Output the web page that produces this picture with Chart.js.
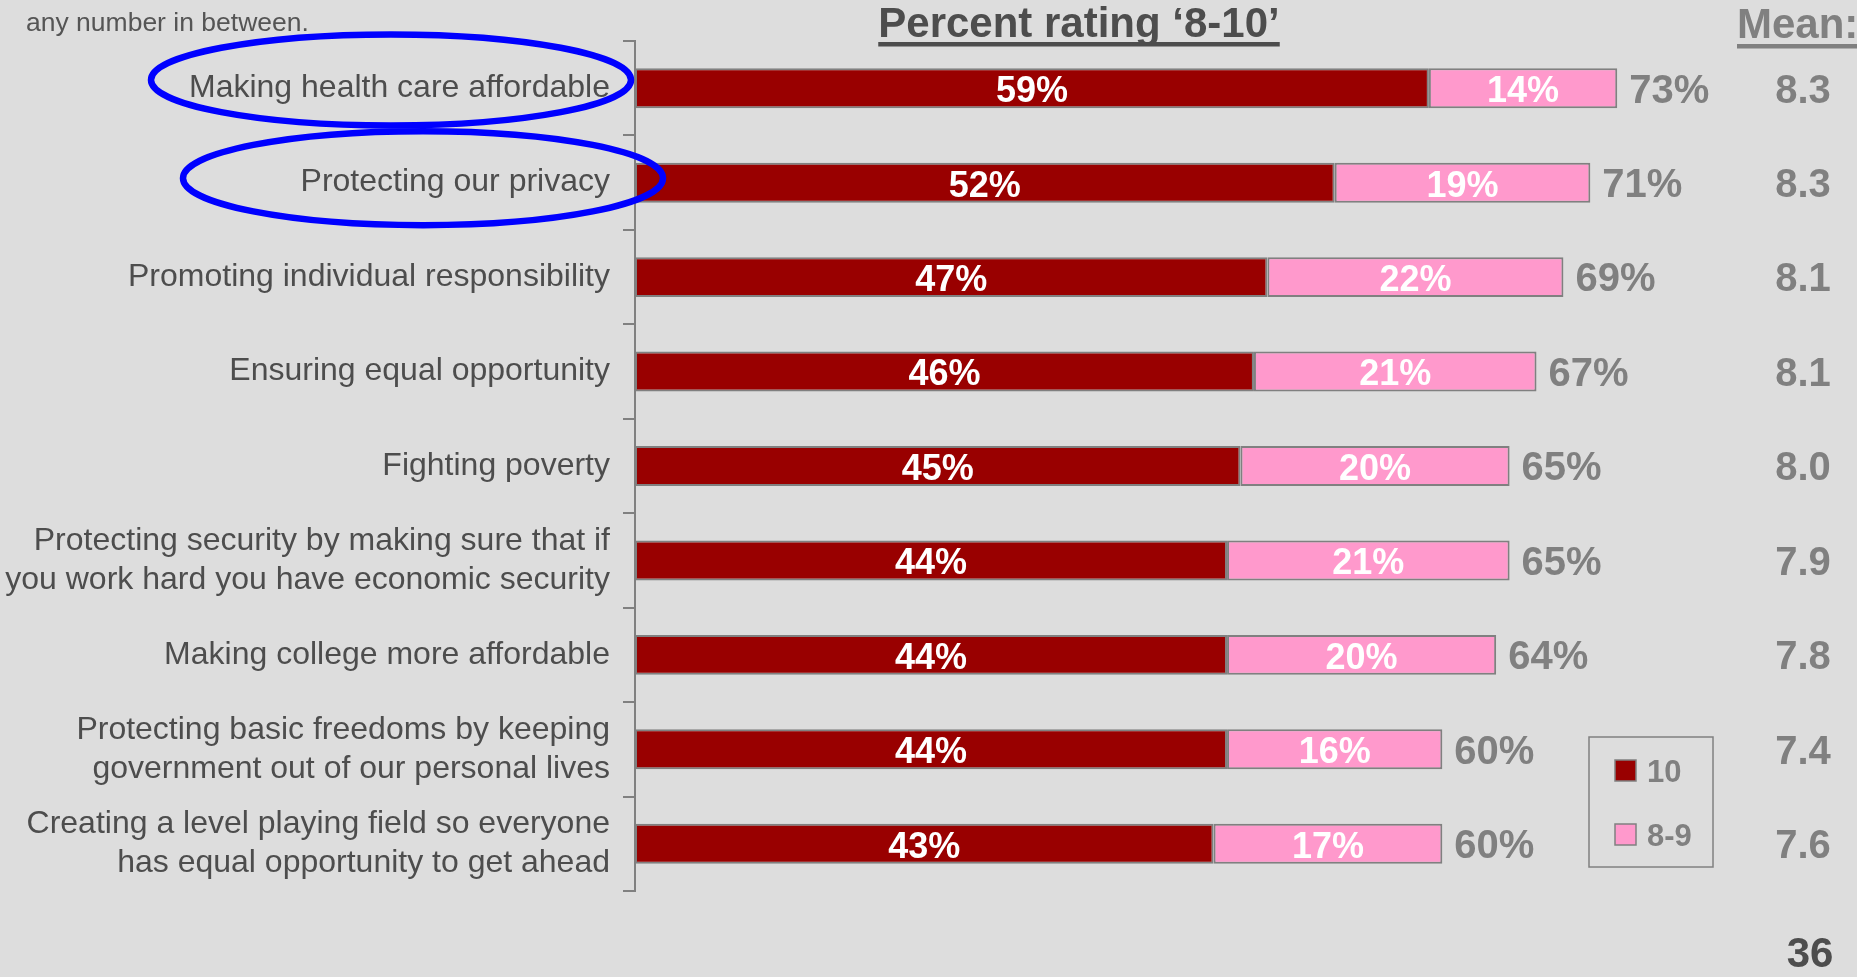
<!DOCTYPE html>
<html>
<head>
<meta charset="utf-8">
<script src="https://cdn.jsdelivr.net/npm/chart.js@4/dist/chart.umd.min.js"></script>
<style>
html,body{margin:0;padding:0;background:#dddddd;overflow:hidden}
#wrap{width:1857px;height:977px;position:relative}
canvas{display:block}
</style>
</head>
<body>
<div id="wrap"><canvas id="c" width="1857" height="977"></canvas></div>
<script>
// ---- data ----
const categories = [
  "Making health care affordable",
  "Protecting our privacy",
  "Promoting individual responsibility",
  "Ensuring equal opportunity",
  "Fighting poverty",
  ["Protecting security by making sure that if", "you work hard you have economic security"],
  "Making college more affordable",
  ["Protecting basic freedoms by keeping", "government out of our personal lives"],
  ["Creating a level playing field so everyone", "has equal opportunity to get ahead"]
];
const seriesNames = ["10", "8-9"];
const pct10 = [59, 52, 47, 46, 45, 44, 44, 44, 43];
const pct89 = [14, 19, 22, 21, 20, 21, 20, 16, 17];
const totals = [73, 71, 69, 67, 65, 65, 64, 60, 60];
const means = ["8.3", "8.3", "8.1", "8.1", "8.0", "7.9", "7.8", "7.4", "7.6"];
const highlighted = [0, 1];
const chartTitle = "Percent rating \u20188-10\u2019";
const meanHeader = "Mean:";
const noteText = "any number in between.";
const pageNumber = "36";

// ---- style ----
const FONT = "'Liberation Sans', Arial, Helvetica, sans-serif";
const BG = "#dddddd";
const DARK = "#4d4d4d";
const GREY = "#808080";
const colors = ["#990000", "#ff99cc"];

const overlay = {
  id: "overlay",
  beforeDraw(chart) {
    const c = chart.ctx;
    c.save();
    c.fillStyle = BG;
    c.fillRect(0, 0, chart.width, chart.height);
    c.restore();
  },
  afterDatasetsDraw(chart) {
    const c = chart.ctx;
    const yScale = chart.scales.y;
    const area = chart.chartArea;
    c.save();

    // segment labels
    c.textAlign = "center";
    c.textBaseline = "alphabetic";
    chart.data.datasets.forEach((ds, di) => {
      const meta = chart.getDatasetMeta(di);
      meta.data.forEach((bar, j) => {
        const size = 36;
        c.font = "bold " + size + "px " + FONT;
        c.fillStyle = "#ffffff";
        c.fillText(ds.data[j] + "%", (bar.base + bar.x) / 2, bar.y + 0.358 * size + 1);
      });
    });

    // totals and means
    const lastMeta = chart.getDatasetMeta(chart.data.datasets.length - 1);
    lastMeta.data.forEach((bar, j) => {
      const size = 40;
      c.font = "bold " + size + "px " + FONT;
      c.fillStyle = GREY;
      c.textAlign = "left";
      c.fillText(totals[j] + "%", bar.x + 12, bar.y + 0.358 * size);
      c.textAlign = "center";
      c.fillText(means[j], 1803, bar.y + 0.358 * size);
    });

    // title
    c.font = "bold 42px " + FONT;
    c.fillStyle = DARK;
    c.textAlign = "center";
    c.fillText(chartTitle, 1079, 37);
    let w = c.measureText(chartTitle).width;
    c.fillRect(1079 - w / 2, 42, w, 4.5);

    // Mean header
    c.fillStyle = GREY;
    c.textAlign = "left";
    c.fillText(meanHeader, 1737, 38);
    w = c.measureText(meanHeader).width;
    c.fillRect(1737, 44, w, 4.5);

    // note
    c.font = "26.5px " + FONT;
    c.fillStyle = "#555555";
    c.fillText(noteText, 26, 31);

    // page number
    c.font = "bold 42px " + FONT;
    c.fillStyle = DARK;
    c.textAlign = "center";
    c.fillText(pageNumber, 1810, 967);

    // highlight ellipses around labels
    const ell = [{dx: -244, dy: -8.3, rx: 240, ry: 45.5}, {dx: -212, dy: -4.5, rx: 240, ry: 47}];
    c.strokeStyle = "#0000ff";
    c.lineWidth = 6.5;
    highlighted.forEach((idx, k) => {
      const e = ell[k];
      c.beginPath();
      c.ellipse(area.left + e.dx, yScale.getPixelForValue(idx) + e.dy, e.rx, e.ry, 0, 0, Math.PI * 2);
      c.stroke();
    });

    // legend
    c.strokeStyle = GREY;
    c.lineWidth = 1.5;
    c.strokeRect(1589, 737, 124, 130);
    chart.data.datasets.forEach((ds, di) => {
      const y = 760 + di * 64;
      c.fillStyle = ds.backgroundColor;
      c.fillRect(1615, y, 21, 21);
      c.strokeStyle = GREY;
      c.lineWidth = 1.5;
      c.strokeRect(1615, y, 21, 21);
      c.font = "bold 31px " + FONT;
      c.fillStyle = GREY;
      c.textAlign = "left";
      c.fillText(ds.label, 1647, y + 10.5 + 0.358 * 31);
    });

    c.restore();
  }
};

new Chart(document.getElementById("c"), {
  type: "bar",
  data: {
    labels: categories,
    datasets: [
      {label: seriesNames[0], data: pct10, backgroundColor: colors[0], borderColor: GREY, borderWidth: 2, borderSkipped: false},
      {label: seriesNames[1], data: pct89, backgroundColor: colors[1], borderColor: GREY, borderWidth: 2, borderSkipped: false}
    ]
  },
  options: {
    indexAxis: "y",
    responsive: false,
    animation: false,
    layout: {padding: {top: 41, bottom: 86, left: 0, right: 11}},
    datasets: {bar: {categoryPercentage: 1, barPercentage: 0.423}},
    scales: {
      x: {stacked: true, display: false, min: 0, max: 90},
      y: {
        stacked: true,
        offset: true,
        afterFit: (s) => { s.width = 635; s.paddingTop = 0; s.paddingBottom = 0; },
        grid: {offset: true, drawOnChartArea: false, drawTicks: true, tickLength: 12, color: GREY, lineWidth: 2},
        border: {display: true, color: GREY, width: 2},
        ticks: {color: DARK, font: {family: FONT, size: 32, lineHeight: 1.22}, padding: 13, autoSkip: false}
      }
    },
    plugins: {legend: {display: false}, tooltip: {enabled: false}, title: {display: false}}
  },
  plugins: [overlay]
});
</script>
</body>
</html>
